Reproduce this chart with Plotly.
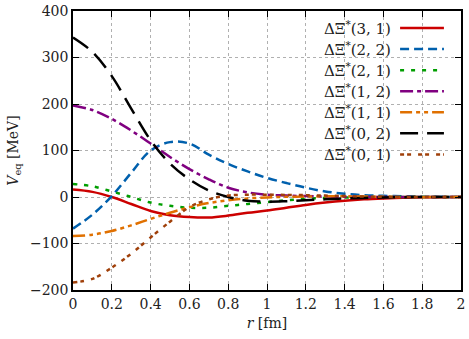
import plotly.graph_objects as go

r = [0.0, 0.1, 0.2, 0.3, 0.4, 0.5, 0.6, 0.7, 0.8, 0.9, 1.0,
     1.1, 1.2, 1.3, 1.4, 1.5, 1.6, 1.7, 1.8, 1.9, 2.0]

v_31 = [16, 11, 0, -15, -30, -39, -43, -44, -40, -34, -29,
        -23, -17, -12, -8, -5, -3, -1.5, -0.7, -0.3, 0]
v_22 = [-68, -38, 2, 52, 100, 118, 115, 91, 71, 55, 41,
        30, 20, 12, 7, 4, 2.5, 1.5, 0.8, 0.3, 0]
v_21 = [28, 23, 12, 0, -12, -19, -23, -23, -19, -15, -11,
        -7, -4, -2, -1, -0.5, 0, 0, 0, 0, 0]
v_12 = [197, 187, 168, 143, 115, 86, 60, 38, 20, 10, 5,
        3, 2, 1, 0.5, 0, 0, 0, 0, 0, 0]
v_11 = [-84, -81, -73, -61, -47, -34, -22, -13, -7, -3, -1,
        0.5, 1, 1.5, 1.5, 1, 0.5, 0, 0, 0, 0]
v_02 = [343, 312, 260, 190, 122, 72, 38, 14, 0, -8, -10,
        -9, -7, -5, -3, -2, -1, -0.5, 0, 0, 0]
v_01 = [-184, -176, -152, -122, -87, -53, -22, -5, 3, 5, 5,
        4.5, 4, 3, 2, 1, 0.5, 0, 0, 0, 0]

x_ticks = [0, 0.2, 0.4, 0.6, 0.8, 1, 1.2, 1.4, 1.6, 1.8, 2]
x_tick_text = ["0", "0.2", "0.4", "0.6", "0.8", "1", "1.2", "1.4", "1.6", "1.8", "2"]
y_ticks = [-200, -100, 0, 100, 200, 300, 400]
y_tick_text = ["\u2212200", "\u2212100", "0", "100", "200", "300", "400"]

labels = ["ΔΞ<sup>*</sup>(3, 1)", "ΔΞ<sup>*</sup>(2, 2)", "ΔΞ<sup>*</sup>(2, 1)",
          "ΔΞ<sup>*</sup>(1, 2)", "ΔΞ<sup>*</sup>(1, 1)", "ΔΞ<sup>*</sup>(0, 2)",
          "ΔΞ<sup>*</sup>(0, 1)"]
series = [v_31, v_22, v_21, v_12, v_11, v_02, v_01]
colors = ["#cc0000", "#0060ad", "#009e00", "#800080", "#e07000", "#000000", "#a0400a"]
dashes = ["solid", "9px,5px", "4px,7px", "13px,4px,4px,4px",
          "12px,4px,4px,4px,4px,4px", "18px,9px", "4px,3px,4px,7px"]

font = "DejaVu Serif"

fig = go.Figure()
for vals, col, dsh in zip(series, colors, dashes):
    fig.add_trace(go.Scatter(x=r, y=vals, mode="lines", line_shape="spline",
                             line=dict(color=col, width=2.5, dash=dsh),
                             showlegend=False))

# legend drawn by hand so the line sample sits right of the text
shapes = []
annotations = []
for i, (lab, col, dsh) in enumerate(zip(labels, colors, dashes)):
    yp = 0.939 - i * 0.0755
    annotations.append(dict(x=0.826, y=yp, xref="paper", yref="paper", text=lab,
                            showarrow=False, xanchor="right", yanchor="middle",
                            font=dict(family=font, size=15, color="#222")))
    shapes.append(dict(type="line", xref="paper", yref="paper", x0=0.843, x1=0.956,
                       y0=yp, y1=yp, line=dict(color=col, width=2.5, dash=dsh)))

axis = dict(showline=True, linecolor="black", linewidth=1.5, mirror="ticks",
            ticks="inside", ticklen=6, tickcolor="black", showgrid=True,
            gridcolor="#b0b0b0", griddash="dot", gridwidth=1, zeroline=False,
            automargin=False, tickfont=dict(family=font, size=14, color="#222"))

fig.update_xaxes(axis, range=[0, 2], tickvals=x_ticks, ticktext=x_tick_text,
                 title=dict(text="<i>r</i> [fm]", standoff=8,
                            font=dict(family=font, size=14, color="#222")))
fig.update_yaxes(axis, range=[-200, 400], tickvals=y_ticks, ticktext=y_tick_text,
                 title=dict(text="<i>V</i><sub>eq</sub> [MeV]", standoff=8,
                            font=dict(family=font, size=14, color="#222")))
fig.update_layout(width=469, height=339, margin=dict(l=73, r=8, t=11, b=49),
                  plot_bgcolor="white", paper_bgcolor="white",
                  shapes=shapes, annotations=annotations)
fig.write_html("out.html", config={"displayModeBar": False},
               post_script="document.body.style.margin = '0px';")
